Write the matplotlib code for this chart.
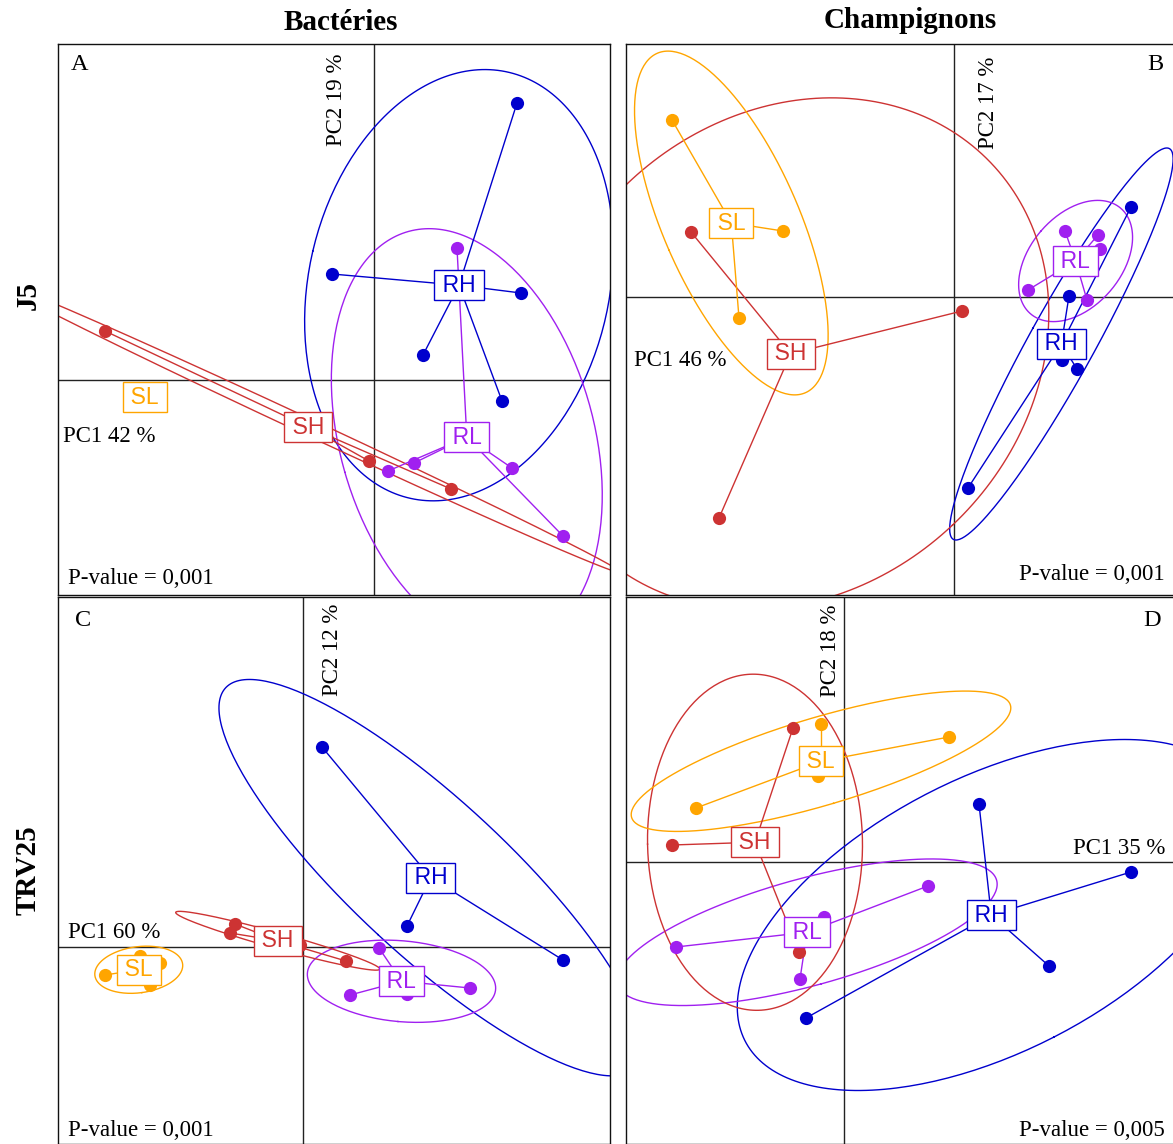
import numpy as np
import matplotlib
matplotlib.use('Agg')
import matplotlib.pyplot as plt

W, H = 1173, 1144
GROUPS = ['RH', 'RL', 'SH', 'SL']
COLORS = {'RH': '#0000CD', 'RL': '#A020F0', 'SH': '#CD3333', 'SL': '#FFA500'}
ELL_K = 1.5 * np.sqrt(2)

# ---- Panel A : Bactéries, J5 ----
A_RH_X = [1.43, -0.42, 1.47, 0.49, 1.28]
A_RH_Y = [2.77, 1.06, 0.87, 0.25, -0.21]
A_RL_X = [0.83, 0.14, 0.40, 1.38, 1.89]
A_RL_Y = [1.32, -0.91, -0.83, -0.88, -1.56]
A_SH_X = [-2.69, -0.05, 0.77]
A_SH_Y = [0.49, -0.81, -1.09]
A_SL_X = [-2.29]
A_SL_Y = [-0.17]

# ---- Panel B : Champignons, J5 ----
B_RH_X = [1.77, 1.15, 1.23, 0.14, 1.08]
B_RH_Y = [0.90, 0.01, -0.72, -1.91, -0.63]
B_RL_X = [1.11, 1.44, 1.46, 0.74, 1.33]
B_RL_Y = [0.66, 0.62, 0.48, 0.07, -0.03]
B_SH_X = [-2.63, 0.08, -2.35]
B_SH_Y = [0.65, -0.14, -2.21]
B_SL_X = [-2.82, -1.71, -2.15]
B_SL_Y = [1.77, 0.66, -0.21]

# ---- Panel C : Bactéries, TRV25 ----
C_RH_X = [0.19, 1.04, 2.60]
C_RH_Y = [2.00, 0.21, -0.13]
C_RL_X = [0.76, 0.47, 1.67, 1.04]
C_RL_Y = [-0.01, -0.48, -0.41, -0.47]
C_SH_X = [-0.68, -0.73, 0.43, -0.03]
C_SH_Y = [0.23, 0.14, -0.14, 0.02]
C_SL_X = [-1.98, -1.63, -1.43, -1.53]
C_SL_Y = [-0.28, -0.09, -0.16, -0.38]

# ---- Panel D : Champignons, TRV25 ----
D_RH_X = [1.35, 2.87, 2.05, -0.38]
D_RH_Y = [0.58, -0.10, -1.04, -1.56]
D_RL_X = [0.84, -0.20, -1.68, -0.44]
D_RL_Y = [-0.24, -0.55, -0.85, -1.17]
D_SH_X = [-0.51, -1.72, -0.45, -0.88]
D_SH_Y = [1.34, 0.17, -0.90, 0.18]
D_SL_X = [-0.23, 1.05, -1.48, -0.26]
D_SL_Y = [1.38, 1.25, 0.54, 0.86]

PANEL_LETTERS = ['A', 'B', 'C', 'D']
PC1_LABELS = ['PC1 42 %', 'PC1 46 %', 'PC1 60 %', 'PC1 35 %']
PC2_LABELS = ['PC2 19 %', 'PC2 17 %', 'PC2 12 %', 'PC2 18 %']
PVALUES = ['P-value = 0,001', 'P-value = 0,001', 'P-value = 0,001', 'P-value = 0,005']
COL_TITLES = ['Bactéries', 'Champignons']
ROW_TITLES = ['J5', 'TRV25']

DATA = {
    'A': {'RH': (A_RH_X, A_RH_Y), 'RL': (A_RL_X, A_RL_Y), 'SH': (A_SH_X, A_SH_Y), 'SL': (A_SL_X, A_SL_Y)},
    'B': {'RH': (B_RH_X, B_RH_Y), 'RL': (B_RL_X, B_RL_Y), 'SH': (B_SH_X, B_SH_Y), 'SL': (B_SL_X, B_SL_Y)},
    'C': {'RH': (C_RH_X, C_RH_Y), 'RL': (C_RL_X, C_RL_Y), 'SH': (C_SH_X, C_SH_Y), 'SL': (C_SL_X, C_SL_Y)},
    'D': {'RH': (D_RH_X, D_RH_Y), 'RL': (D_RL_X, D_RL_Y), 'SH': (D_SH_X, D_SH_Y), 'SL': (D_SL_X, D_SL_Y)},
}

# layout (pixels): frame box and axes origin position
FRAMES = {'A': (58, 44, 610, 595), 'B': (626, 44, 1178, 595),
          'C': (58, 597, 610, 1144), 'D': (626, 597, 1178, 1144)}
ORIGINS = {'A': (374, 380), 'B': (954, 297), 'C': (303, 947), 'D': (844, 862)}

SERIF = ['Liberation Serif', 'DejaVu Serif']
SANS = ['Liberation Sans', 'DejaVu Sans']


def ellipse_xy(x, y, k=ELL_K, n=240):
    x = np.asarray(x, float)
    y = np.asarray(y, float)
    if len(x) < 2:
        return None
    cov = np.cov(x, y, bias=True)
    vals, vecs = np.linalg.eigh(cov)
    vals = np.clip(vals, 0, None)
    t = np.linspace(0, 2 * np.pi, n)
    circ = np.vstack([np.cos(t), np.sin(t)])
    pts = vecs @ (np.sqrt(vals)[:, None] * circ) * k
    return x.mean() + pts[0], y.mean() + pts[1]


fig = plt.figure(figsize=(W / 100, H / 100), dpi=100)


def px(x, y):
    return x / W, 1 - y / H


for key in ['A', 'B', 'C', 'D']:
    x0, y0, x1, y1 = FRAMES[key]
    ox, oy = ORIGINS[key]
    ax = fig.add_axes([x0 / W, 1 - y1 / H, (x1 - x0) / W, (y1 - y0) / H])
    ax.set_xlim((x0 - ox) / 100, (x1 - ox) / 100)
    ax.set_ylim((oy - y1) / 100, (oy - y0) / 100)
    ax.set_xticks([]); ax.set_yticks([])
    for s in ax.spines.values():
        s.set_linewidth(1.0)
        s.set_color('#111111')
    ax.axhline(0, color='#222222', lw=1.0, zorder=1)
    ax.axvline(0, color='#222222', lw=1.0, zorder=1)
    groups = DATA[key]
    # ellipses
    for g in GROUPS:
        gx, gy = groups[g]
        e = ellipse_xy(gx, gy)
        if e is not None:
            ax.plot(e[0], e[1], color=COLORS[g], lw=1.0, zorder=2)
    # stars
    for g in GROUPS:
        gx, gy = groups[g]
        mx, my = np.mean(gx), np.mean(gy)
        for xi, yi in zip(gx, gy):
            ax.plot([mx, xi], [my, yi], color=COLORS[g], lw=1.0, zorder=3)
    # points
    for g in GROUPS:
        gx, gy = groups[g]
        ax.plot(gx, gy, 'o', color=COLORS[g], ms=9.5, mec='none', zorder=4)
    # labels
    for g in GROUPS:
        gx, gy = groups[g]
        ax.text(np.mean(gx), np.mean(gy), '\u2009' + g + '\u2009', color=COLORS[g],
                fontsize=16.5, family=SANS, ha='center', va='center', zorder=6,
                bbox=dict(boxstyle='square,pad=0.15', fc='white', ec=COLORS[g], lw=1.0),
                clip_on=True)

# column / row titles
fig.text(*px(341, 22), COL_TITLES[0], family=SERIF, fontsize=21, fontweight='bold', ha='center', va='center')
fig.text(*px(910, 20), COL_TITLES[1], family=SERIF, fontsize=21, fontweight='bold', ha='center', va='center')
fig.text(*px(28, 295), ROW_TITLES[0], family=SERIF, fontsize=21, fontweight='bold', ha='center', va='center', rotation=90)
fig.text(*px(28, 870), ROW_TITLES[1], family=SERIF, fontsize=21, fontweight='bold', ha='center', va='center', rotation=90)

# panel letters
letter_pos = [(80, 65), (1155, 65), (83, 620), (1152, 620)]
for t, (x, y) in zip(PANEL_LETTERS, letter_pos):
    fig.text(*px(x, y), t, family=SERIF, fontsize=17.5, ha='center', va='center')

# PC2 labels (rotated), anchored at top
pc2_pos = [(337, 54), (988, 57), (332, 604), (831, 604)]
for t, (x, y) in zip(PC2_LABELS, pc2_pos):
    fig.text(*px(x, y), t, family=SERIF, fontsize=16.5, ha='center', va='top', rotation=90)

# PC1 labels
pc1 = [((63, 437), 'left'), ((634, 360), 'left'), ((68, 933), 'left'), ((1165, 848), 'right')]
for t, ((x, y), ha) in zip(PC1_LABELS, pc1):
    fig.text(*px(x, y), t, family=SERIF, fontsize=16.5, ha=ha, va='center')

# p-values
pv = [((68, 578), 'left'), ((1165, 575), 'right'), ((68, 1131), 'left'), ((1165, 1130), 'right')]
for t, ((x, y), ha) in zip(PVALUES, pv):
    fig.text(*px(x, y), t, family=SERIF, fontsize=16.5, ha=ha, va='center')

fig.savefig('out.png', dpi=100)
